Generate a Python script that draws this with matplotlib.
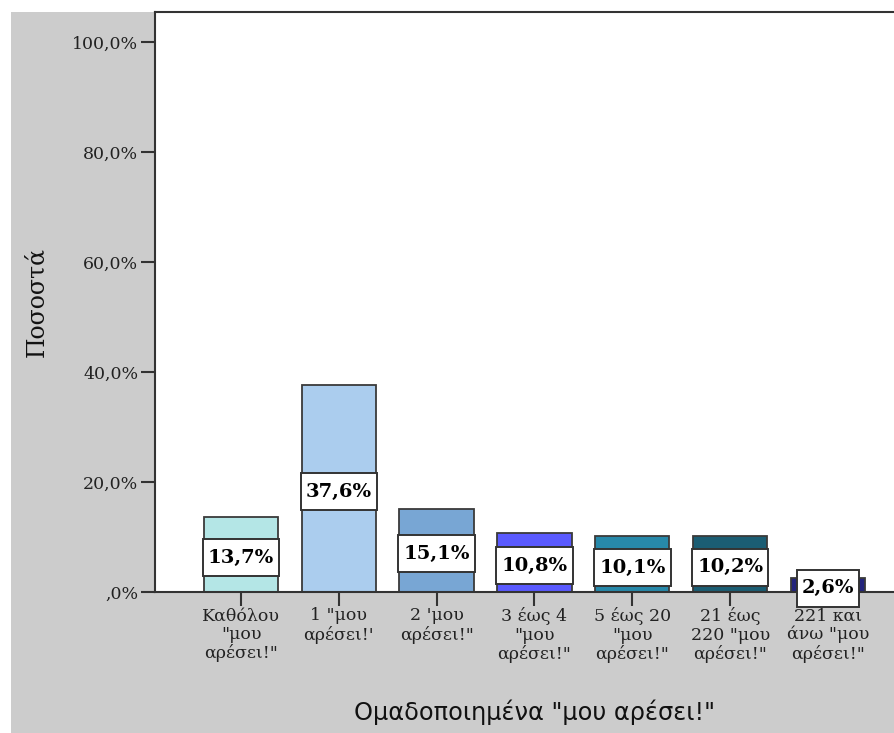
import matplotlib
matplotlib.use("Agg")
import matplotlib.pyplot as plt
from matplotlib.patches import Rectangle

categories = ['Καθόλου\n"μου\nαρέσει!"', '1 "μου\nαρέσει!\'', "2 'μου\nαρέσει!\"",
              '3 έως 4\n"μου\nαρέσει!"', '5 έως 20\n"μου\nαρέσει!"',
              '21 έως\n220 "μου\nαρέσει!"', '221 και\nάνω "μου\nαρέσει!"']
values = [13.7, 37.6, 15.1, 10.8, 10.1, 10.2, 2.6]
value_labels = ["13,7%", "37,6%", "15,1%", "10,8%", "10,1%", "10,2%", "2,6%"]
colors = ["#b4e6e6", "#abcdee", "#78a6d4", "#5a5aff", "#2789aa", "#1b5d73", "#23247c"]
yticks = [0, 20, 40, 60, 80, 100]
ytick_labels = [",0%", "20,0%", "40,0%", "60,0%", "80,0%", "100,0%"]

W, H = 895, 733
fig = plt.figure(figsize=(W / 100, H / 100), dpi=100)
fig.patch.set_facecolor("white")
bg = Rectangle((11 / W, 0), 1, 1 - 12 / H, transform=fig.transFigure,
               facecolor="#cccccc", edgecolor="none", zorder=-10)
fig.add_artist(bg)

left, right, top, bottom = 155, 945, 12, 592
ax = fig.add_axes([left / W, 1 - bottom / H, (right - left) / W, (bottom - top) / H])
ax.set_facecolor("white")
ax.set_zorder(1)

x = list(range(len(values)))
ax.bar(x, values, width=0.76, color=colors, edgecolor="#3a3a3a", linewidth=1.3, zorder=2)

ax.set_ylim(0, 100 * (bottom - top) / (bottom - 42))
unit = 97.8
ax.set_xlim(-(241 - left) / unit, 6 + (right - 828) / unit)

ax.set_yticks(yticks)
ax.set_yticklabels(ytick_labels, family="DejaVu Serif", fontsize=12.5, color="#222222")
ax.set_xticks(x)
ax.set_xticklabels(categories, family="DejaVu Serif", fontsize=12.5, color="#222222",
                   linespacing=1.1)
ax.tick_params(axis="both", direction="out", length=10, width=1.5, color="#333333")
ax.tick_params(axis="x", pad=1)
ax.tick_params(axis="y", pad=2)

for s in ["left", "bottom", "top"]:
    ax.spines[s].set_linewidth(1.5)
    ax.spines[s].set_color("#333333")
ax.spines["right"].set_visible(False)

ax.set_ylabel("Ποσοστά", family="DejaVu Serif", fontsize=17, color="#111111")
ax.yaxis.set_label_coords((37 - left) / (right - left), 0.5)
ax.yaxis.label.set_va("center")
ax.set_xlabel('Ομαδοποιημένα "μου αρέσει!"', family="DejaVu Sans", fontsize=17.3, color="#111111")
ax.xaxis.set_label_coords((535 - left) / (right - left), -(712 - bottom) / (bottom - top))
ax.xaxis.label.set_va("center")

texts = []
for xi, v, lab in zip(x, values, value_labels):
    t = ax.text(xi, v / 2 - 0.6, lab, ha="center", va="center", family="DejaVu Serif",
                fontweight="bold", fontsize=14, color="black", zorder=6)
    texts.append(t)

fig.canvas.draw()
renderer = fig.canvas.get_renderer()
inv = ax.transData.inverted()
for t in texts:
    bb = t.get_window_extent(renderer)
    cx = (bb.x0 + bb.x1) / 2
    cy = (bb.y0 + bb.y1) / 2
    hw = bb.width / 2 + 5
    hh = 18.5
    (x0, y0) = inv.transform((cx - hw, cy - hh))
    (x1, y1) = inv.transform((cx + hw, cy + hh))
    ax.add_patch(Rectangle((x0, y0), x1 - x0, y1 - y0, facecolor="white",
                           edgecolor="#333333", linewidth=1.4, zorder=5, clip_on=False))

fig.savefig("out.png", dpi=100)
